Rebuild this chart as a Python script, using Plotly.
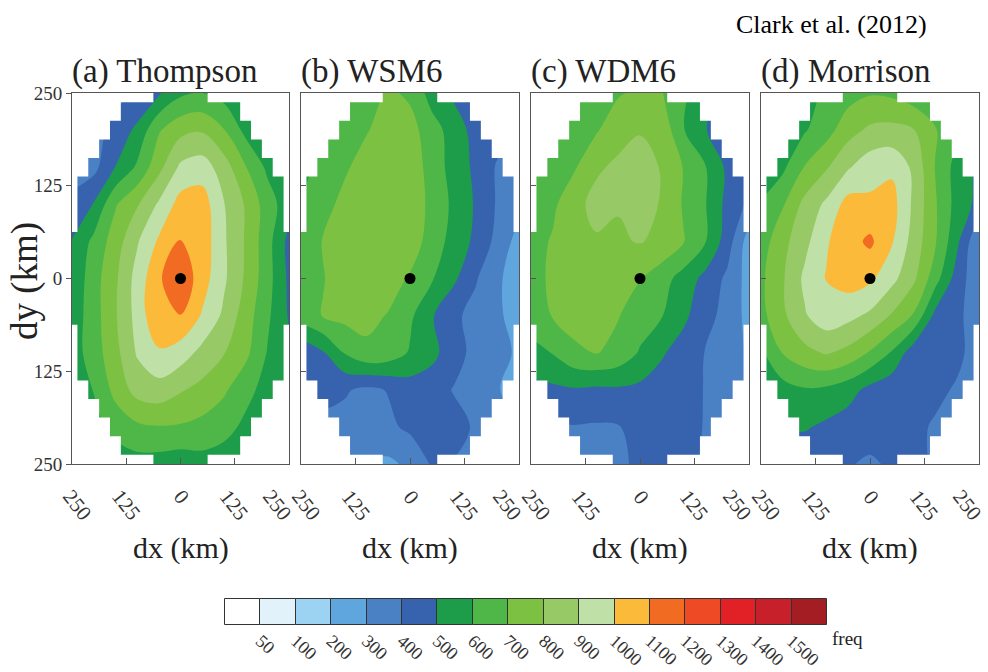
import plotly.graph_objects as go

# ---------------- data ----------------
dx_km = [-250, -200, -150, -100, -50, 0, 50, 100, 150, 200, 250]
dy_km = [250, 200, 150, 100, 50, 0, -50, -100, -150, -200, -250]

thompson = [
    [260, 300, 360, 420, 490, 580, 600, 560, 480, 420, 380],
    [320, 350, 440, 520, 690, 770, 790, 705, 570, 480, 420],
    [350, 370, 502, 615, 770, 920, 950, 850, 705, 580, 495],
    [430, 505, 690, 790, 915, 1040, 1050, 905, 790, 650, 540],
    [505, 625, 750, 890, 1015, 1105, 1060, 915, 790, 640, 470],
    [520, 657, 783, 938, 1086, 1180, 1045, 917, 786, 641, 480],
    [540, 655, 790, 935, 1095, 1098, 990, 880, 750, 620, 490],
    [550, 650, 770, 910, 985, 950, 870, 805, 725, 595, 520],
    [520, 605, 730, 840, 860, 810, 770, 715, 635, 560, 495],
    [450, 560, 640, 680, 695, 690, 670, 640, 575, 520, 480],
    [420, 480, 530, 560, 555, 540, 560, 540, 510, 480, 450],
]
wsm6 = [
    [480, 520, 560, 640, 720, 680, 560, 480, 420, 380, 340],
    [505, 605, 640, 690, 760, 740, 640, 560, 460, 440, 405],
    [560, 640, 680, 760, 790, 760, 660, 560, 480, 390, 350],
    [605, 650, 740, 790, 790, 770, 670, 580, 490, 390, 330],
    [640, 705, 760, 790, 785, 750, 660, 560, 480, 370, 260],
    [640, 695, 745, 755, 740, 690, 610, 520, 410, 320, 240],
    [650, 705, 730, 725, 695, 620, 510, 420, 370, 320, 250],
    [420, 490, 605, 680, 660, 590, 530, 440, 370, 320, 290],
    [395, 440, 410, 380, 405, 450, 440, 395, 350, 305, 270],
    [340, 360, 370, 360, 380, 420, 450, 430, 390, 340, 305],
    [305, 310, 320, 290, 280, 320, 410, 395, 370, 330, 305],
]
wdm6 = [
    [450, 520, 580, 640, 690, 720, 705, 620, 530, 460, 405],
    [480, 560, 640, 690, 760, 790, 770, 605, 505, 440, 405],
    [605, 650, 690, 785, 820, 860, 790, 695, 605, 480, 420],
    [620, 680, 770, 830, 805, 850, 790, 690, 605, 470, 380],
    [660, 710, 760, 790, 790, 805, 780, 705, 605, 450, 250],
    [670, 715, 760, 770, 760, 705, 640, 560, 470, 380, 260],
    [660, 705, 740, 745, 705, 650, 605, 520, 440, 360, 270],
    [560, 605, 680, 705, 670, 590, 510, 460, 395, 340, 290],
    [470, 480, 490, 480, 485, 475, 460, 440, 395, 350, 305],
    [380, 390, 395, 390, 395, 430, 450, 430, 395, 360, 320],
    [340, 350, 360, 370, 380, 420, 440, 420, 390, 360, 330],
]
morrison = [
    [450, 505, 560, 620, 660, 690, 680, 640, 580, 520, 470],
    [480, 540, 590, 660, 760, 820, 830, 805, 710, 605, 520],
    [520, 580, 705, 790, 890, 960, 980, 880, 695, 560, 480],
    [610, 690, 830, 920, 1040, 1020, 1040, 880, 710, 560, 470],
    [650, 770, 870, 990, 1060, 1120, 1010, 860, 710, 520, 305],
    [680, 790, 920, 1005, 1045, 1020, 930, 820, 640, 450, 330],
    [670, 780, 890, 960, 930, 880, 790, 690, 470, 420, 350],
    [580, 705, 770, 810, 770, 690, 590, 440, 420, 410, 380],
    [520, 560, 590, 580, 540, 470, 430, 420, 410, 395, 390],
    [470, 505, 510, 480, 450, 430, 420, 410, 395, 390, 380],
    [420, 430, 430, 420, 405, 390, 410, 410, 395, 390, 380],
]

panel_titles = ["(a) Thompson", "(b) WSM6", "(c) WDM6", "(d) Morrison"]
panel_fields = [thompson, wsm6, wdm6, morrison]

tick_vals = [-250, -125, 0, 125, 250]
tick_text = ["250", "125", "0", "125", "250"]

levels = [50, 100, 200, 300, 400, 500, 600, 700, 800, 900, 1000,
          1100, 1200, 1300, 1400, 1500]
level_labels = [str(v) for v in levels]
class_colors = ["#ffffff", "#e1f2fb", "#9dd3f2", "#5fa6de", "#4a80c4", "#3762ae",
                "#1d9d4a", "#4eb748", "#7cc142", "#97c966", "#bfe0a6", "#fcba3b",
                "#f26b22", "#ef4a26", "#e22127", "#c8202b", "#a31d23"]

# ---------------- helpers ----------------
W, H = 988, 672
def px(x): return x / W
def py(y): return 1 - y / H

c_start, c_size, c_end = 50, 50, 1500
lo, hi = c_start - c_size / 2, c_end + c_size / 2
def s_of(v): return (v - lo) / (hi - lo)

colorscale = [[0.0, class_colors[0]]]
for i, L in enumerate(levels):
    s = s_of(L)
    colorscale.append([s, class_colors[i]])
    colorscale.append([s, class_colors[i + 1]])
colorscale.append([1.0, class_colors[-1]])

# white staircase mask outside the circular domain (25 km cells)
cells = list(range(-250, 251, 25))
R_dom, half = 258, 12.5
mask_x, mask_y = [], []
for cy in cells:
    inside = [cx for cx in cells if (cx * cx + cy * cy) ** 0.5 <= R_dom]
    y0, y1 = cy - half, cy + half
    left_edge = min(inside) - half
    right_edge = max(inside) + half
    for (a, b) in [(-270, left_edge), (right_edge, 270)]:
        if b > a:
            mask_x += [a, b, b, a, a, None]
            mask_y += [y0, y0, y1, y1, y0, None]

panel_px = [(72, 289), (301, 519), (531, 749), (761, 979)]
top_px, bot_px = 93, 464
xlabel_shift = [5, 0, 1, -1, -12]   # horizontal nudges of rotated x tick labels (px)

fig = go.Figure()
serif = "Liberation Serif"

for k, (field, title) in enumerate(zip(panel_fields, panel_titles)):
    xa = "x" if k == 0 else f"x{k+1}"
    ya = "y" if k == 0 else f"y{k+1}"
    fig.add_trace(go.Contour(
        x=dx_km, y=dy_km, z=field, xaxis=xa, yaxis=ya,
        contours=dict(start=c_start, end=c_end, size=c_size, coloring="fill", showlines=False),
        line=dict(width=0, smoothing=1.0),
        colorscale=colorscale, showscale=False, hoverinfo="skip"))
    fig.add_trace(go.Scatter(
        x=mask_x, y=mask_y, xaxis=xa, yaxis=ya, mode="lines", fill="toself",
        fillcolor="white", line=dict(width=0, color="white"),
        hoverinfo="skip", showlegend=False))
    fig.add_trace(go.Scatter(
        x=[0], y=[0], xaxis=xa, yaxis=ya, mode="markers",
        marker=dict(color="black", size=11), hoverinfo="skip", showlegend=False))

    x0, x1 = panel_px[k]
    xkey = "xaxis" if k == 0 else f"xaxis{k+1}"
    ykey = "yaxis" if k == 0 else f"yaxis{k+1}"
    fig.layout[xkey] = dict(
        domain=[px(x0), px(x1)], range=[-250, 250], anchor=ya, automargin=False,
        showgrid=False, zeroline=False, showline=True, mirror=True,
        linecolor="#555", linewidth=1,
        tickvals=tick_vals, ticktext=tick_text, ticks="inside", ticklen=6,
        tickcolor="#555", showticklabels=False)
    fig.layout[ykey] = dict(
        domain=[py(bot_px), py(top_px)], range=[-250, 250], anchor=xa, automargin=False,
        showgrid=False, zeroline=False, showline=True, mirror=True,
        linecolor="#555", linewidth=1, ticklabeloverflow="allow",
        tickvals=tick_vals, ticktext=tick_text,
        ticks="outside" if k == 0 else "inside", ticklen=5, tickcolor="#555",
        showticklabels=(k == 0),
        tickfont=dict(family=serif, size=19, color="#333"))

    # rotated x tick labels, placed through the x axis scale
    for v, t, sh in zip(tick_vals, tick_text, xlabel_shift):
        fig.add_annotation(text=t, xref=xa, yref="paper", x=v, y=py(484),
                           xshift=sh, xanchor="center", yanchor="top", textangle=52,
                           showarrow=False, borderpad=0,
                           font=dict(family=serif, size=21, color="#333"))

    fig.add_annotation(text=title, xref="paper", yref="paper",
                       x=px(x0 - 2), y=py(72), xanchor="left", yanchor="middle",
                       showarrow=False, font=dict(family=serif, size=33, color="#222"))
    fig.add_annotation(text="dx (km)", xref="paper", yref="paper",
                       x=px((x0 + x1) / 2), y=py(548), xanchor="center", yanchor="middle",
                       showarrow=False, font=dict(family=serif, size=30, color="#222"))

fig.add_annotation(text="dy (km)", xref="paper", yref="paper", x=px(25), y=py(281),
                   textangle=-90, xanchor="center", yanchor="middle", showarrow=False,
                   font=dict(family=serif, size=37, color="#222"))
fig.add_annotation(text="Clark et al. (2012)", xref="paper", yref="paper", x=px(929), y=py(25),
                   xanchor="right", yanchor="middle", showarrow=False,
                   font=dict(family=serif, size=26, color="black"))

# ---------------- colour bar (bars on their own axis) ----------------
fig.add_trace(go.Bar(
    x=list(range(len(class_colors))), y=[1] * len(class_colors), width=1,
    marker=dict(color=class_colors, line=dict(color="#333", width=1)),
    xaxis="x5", yaxis="y5", hoverinfo="skip", showlegend=False))
fig.layout["xaxis5"] = dict(
    domain=[px(224), px(828)], range=[-0.53, len(class_colors) - 0.47], anchor="y5",
    automargin=False, showgrid=False, zeroline=False, showline=False,
    ticklabeloverflow="allow",
    tickvals=[i + 0.5 for i in range(len(levels))], ticktext=level_labels,
    ticks="", tickangle=42, tickfont=dict(family=serif, size=18, color="#333"))
fig.layout["yaxis5"] = dict(domain=[py(626), py(598)], range=[-0.02, 1.02], anchor="x5",
                            automargin=False, visible=False)
fig.add_annotation(text="freq", xref="paper", yref="paper", x=px(830), y=py(638),
                   xanchor="left", yanchor="middle", showarrow=False,
                   font=dict(family=serif, size=19, color="#222"))

fig.update_layout(width=W, height=H, margin=dict(l=0, r=0, t=0, b=0, autoexpand=False),
                  paper_bgcolor="white", plot_bgcolor="white", showlegend=False,
                  bargap=0, hovermode=False)

fig.write_html("out.html", config={"displayModeBar": False},
               post_script="document.body.style.margin='0';document.body.style.overflow='hidden';")
